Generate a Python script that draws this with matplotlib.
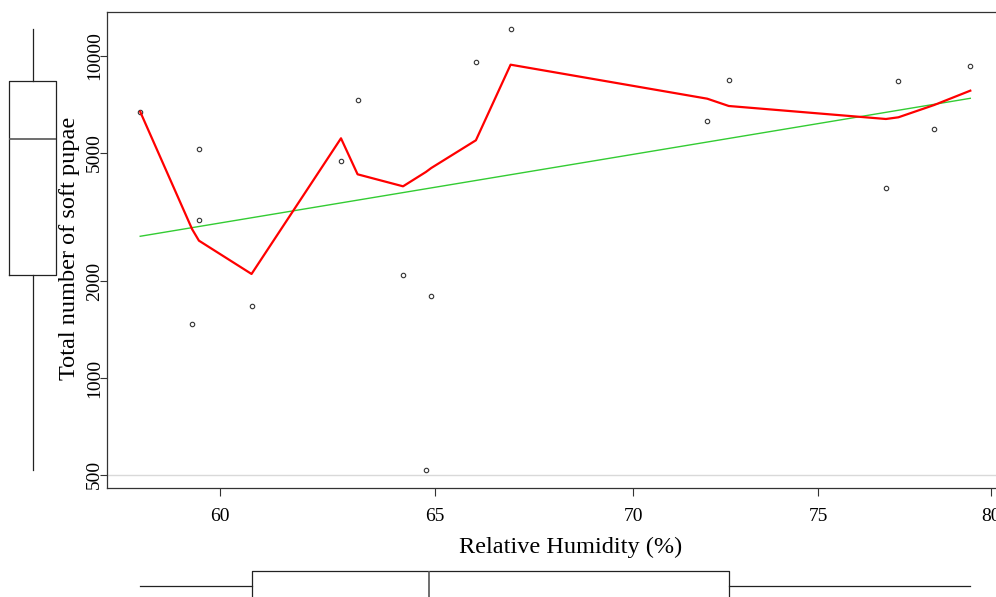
import numpy as np
import matplotlib
matplotlib.use("Agg")
import matplotlib.pyplot as plt
from matplotlib.ticker import FixedLocator, NullLocator, FixedFormatter

# Dados (umidade relativa x numero de pupas)
humidity = [58.24, 59.38, 59.53, 59.53, 60.71, 62.77, 63.16, 64.24, 64.79,
            64.92, 66.01, 66.87, 71.96, 72.54, 76.92, 77.28, 78.32, 79.38]
pupae = [6714, 1474, 5153, 3089, 1677, 4729, 7286, 2089, 518,
         1794, 9559, 12101, 6297, 8406, 3882, 8347, 5946, 9330]

# curva suavizada (vermelha)
smooth_x = [58.24, 59.38, 59.53, 60.71, 62.77, 63.16, 64.24, 64.79, 64.92,
            66.01, 66.87, 71.96, 72.54, 76.92, 77.28, 78.32, 79.38]
smooth_y = [6714, 2896, 2670, 2104, 5552, 4291, 3938, 4363, 4489,
            5473, 9397, 7369, 6994, 6373, 6451, 7045, 7804]

# reta de regressao (verde)
fit_x = [58.24, 79.38]
fit_y = [2755, 7389]

x_ticks = [60, 65, 70, 75, 80]
y_ticks = [500, 1000, 2000, 5000, 10000]


def fivenum(v):
    v = np.sort(np.asarray(v, dtype=float))
    n = len(v)
    n4 = np.floor((n + 3) / 2) / 2
    d = np.array([1, n4, (n + 1) / 2, n + 1 - n4, n]) - 1
    return 0.5 * (v[np.floor(d).astype(int)] + v[np.ceil(d).astype(int)])


def log_lim(v):
    lo, hi = np.log10(min(v)), np.log10(max(v))
    r = (hi - lo) * 0.04
    return 10 ** (lo - r), 10 ** (hi + r)


plt.rcParams['font.family'] = ['Liberation Serif', 'DejaVu Serif']

W, H = 996, 597
fig = plt.figure(figsize=(W / 100, H / 100), dpi=100)

left, right, top, bottom = 107, 1003.5, 11.7, 487.6
ax = fig.add_axes([left / W, 1 - bottom / H, (right - left) / W, (bottom - top) / H])
ax.set_xscale('log')
ax.set_yscale('log')
xlim = log_lim(humidity)
ylim = log_lim(pupae)
ax.set_xlim(xlim)
ax.set_ylim(ylim)

ax.axhline(500, color='#d9d9d9', lw=1, zorder=0)
ax.plot(humidity, pupae, 'o', ms=3.2, mfc='none', mec='#333333', mew=0.8, zorder=3)
ax.plot(fit_x, fit_y, color='#33cc33', lw=1, zorder=2)
ax.plot(smooth_x, smooth_y, color='#ff0000', lw=1.6, zorder=4)

ax.xaxis.set_major_locator(FixedLocator(x_ticks))
ax.xaxis.set_major_formatter(FixedFormatter([str(t) for t in x_ticks]))
ax.xaxis.set_minor_locator(NullLocator())
ax.yaxis.set_major_locator(FixedLocator(y_ticks))
ax.yaxis.set_major_formatter(FixedFormatter([str(t) for t in y_ticks]))
ax.yaxis.set_minor_locator(NullLocator())
ax.tick_params(axis='x', length=6, width=0.8, color='#333333', labelsize=14, pad=9)
ax.tick_params(axis='y', length=5, width=0.8, color='#333333', labelsize=14, pad=-2,
               labelrotation=90)
for lab in ax.get_yticklabels():
    lab.set_va('center')
for s in ax.spines.values():
    s.set_color('#333333')
    s.set_linewidth(0.9)

fig.text(570.5 / W, 1 - 547 / H, 'Relative Humidity (%)', ha='center', va='center', fontsize=17.5)
fig.text(69 / W, 1 - 248 / H, 'Total number of soft pupae', ha='center', va='center',
         rotation=90, fontsize=17.5)

box_style = dict(showcaps=False, showfliers=False, patch_artist=False,
                 boxprops=dict(color='#222222', lw=0.9),
                 whiskerprops=dict(color='#222222', lw=0.9),
                 medianprops=dict(color='#555555', lw=1.2))

# boxplot da esquerda (numero de pupas)
fy = 10 ** fivenum(np.log10(pupae))
axl = fig.add_axes([0, 1 - bottom / H, 66 / W, (bottom - top) / H])
axl.set_yscale('log')
axl.set_ylim(ylim)
axl.set_xlim(0, 66)
axl.bxp([dict(whislo=fy[0], q1=fy[1], med=fy[2], q3=fy[3], whishi=fy[4], fliers=[])],
        positions=[32.5], widths=47, **box_style)
axl.axis('off')

# boxplot de baixo (umidade)
fx = fivenum(humidity)
axb = fig.add_axes([left / W, 1 - 616 / H, (right - left) / W, 60 / H])
axb.set_xscale('log')
axb.set_xlim(xlim)
axb.set_ylim(0, 60)
axb.bxp([dict(whislo=fx[0], q1=fx[1], med=fx[2], q3=fx[3], whishi=fx[4], fliers=[])],
        positions=[30], widths=30, orientation='horizontal', **box_style)
axb.axis('off')

fig.savefig('out.png', dpi=100)
